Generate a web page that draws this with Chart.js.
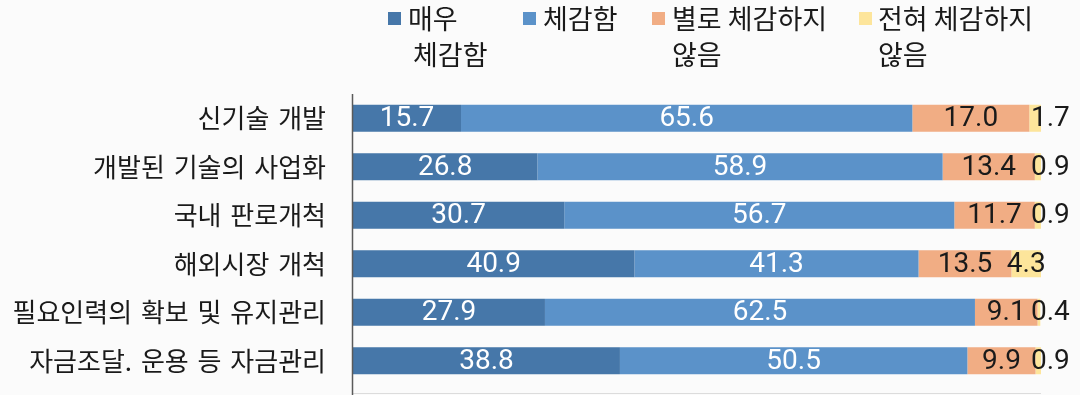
<!DOCTYPE html>
<html>
<head>
<meta charset="utf-8">
<script src="https://cdn.jsdelivr.net/npm/chart.js@4/dist/chart.umd.min.js"></script>
<style>
  html, body { margin: 0; padding: 0; background: #fbfbfb; }
  #wrap { width: 1080px; height: 395px; }
</style>
</head>
<body>
<div id="wrap"><canvas id="c" width="1080" height="395"></canvas></div>
<script>
const categories = ['신기술 개발', '개발된 기술의 사업화', '국내 판로개척', '해외시장 개척', '필요인력의 확보 및 유지관리', '자금조달. 운용 등 자금관리'];
const seriesNames = ['매우 체감함', '체감함', '별로 체감하지 않음', '전혀 체감하지 않음'];
const legendLines = [['매우', '체감함'], ['체감함'], ['별로 체감하지', '않음'], ['전혀 체감하지', '않음']];
const veryMuch = [15.7, 26.8, 30.7, 40.9, 27.9, 38.8];
const felt = [65.6, 58.9, 56.7, 41.3, 62.5, 50.5];
const notMuch = [17.0, 13.4, 11.7, 13.5, 9.1, 9.9];
const notAtAll = [1.7, 0.9, 0.9, 4.3, 0.4, 0.9];

const colors = ['#4677a9', '#5b92c9', '#f1ad84', '#fde59b'];
const labelColors = ['#ffffff', '#ffffff', '#1a1a1a', '#1a1a1a'];
const FONT = '"Noto Sans CJK KR", "Noto Sans", sans-serif';
const NUMFONT = 'Roboto, "Noto Sans", sans-serif';

const valueLabels = {
  id: 'valueLabels',
  afterDatasetsDraw(chart) {
    const ctx = chart.ctx;
    const xs = chart.scales.x;
    ctx.save();
    ctx.font = '400 28px ' + NUMFONT;
    ctx.textBaseline = 'middle';
    chart.data.datasets.forEach((ds, di) => {
      const meta = chart.getDatasetMeta(di);
      meta.data.forEach((bar, i) => {
        const v = ds.data[i];
        ctx.fillStyle = labelColors[di];
        const txt = v.toFixed(1);
        if (di === 3 && v < 2.5) {
          ctx.textAlign = 'left';
          ctx.fillText(txt, xs.getPixelForValue(100) - 10, bar.y + 1);
        } else {
          ctx.textAlign = 'center';
          ctx.fillText(txt, (bar.x + bar.base) / 2, bar.y + 1);
        }
      });
    });
    ctx.restore();
  }
};

const customLegend = {
  id: 'customLegend',
  afterDraw(chart) {
    const ctx = chart.ctx;
    const sqX = [388, 523, 652, 859];
    const txX = [408, 543, 672, 878];
    const line2X = [413, 543, 672, 878];
    ctx.save();
    ctx.wordSpacing = '0px';
    ctx.font = '400 27px ' + FONT;
    ctx.textBaseline = 'middle';
    ctx.textAlign = 'left';
    legendLines.forEach((lines, i) => {
      ctx.fillStyle = colors[i];
      ctx.fillRect(sqX[i], 12, 13, 13);
      ctx.fillStyle = '#1a1a1a';
      ctx.fillText(lines[0], txX[i], 19);
      if (lines[1]) ctx.fillText(lines[1], line2X[i], 55);
    });
    ctx.restore();
  }
};

const axisLine = {
  id: 'axisLine',
  afterDraw(chart) {
    const ctx = chart.ctx;
    const a = chart.chartArea;
    ctx.save();
    ctx.strokeStyle = '#dcdcdc';
    ctx.lineWidth = 1;
    ctx.beginPath();
    ctx.moveTo(a.left, 393.5);
    ctx.lineTo(a.right, 393.5);
    ctx.stroke();
    ctx.strokeStyle = '#5a5a5a';
    ctx.lineWidth = 1.5;
    ctx.beginPath();
    ctx.moveTo(a.left - 0.5, a.top);
    ctx.lineTo(a.left - 0.5, chart.height);
    ctx.stroke();
    ctx.restore();
  }
};

const bgPlugin = {
  id: 'bg',
  beforeDraw(chart) {
    const ctx = chart.ctx;
    ctx.save();
    ctx.fillStyle = '#fbfbfb';
    ctx.fillRect(0, 0, chart.width, chart.height);
    ctx.restore();
    ctx.wordSpacing = '3px';
  }
};

const dataSeries = [veryMuch, felt, notMuch, notAtAll];

new Chart(document.getElementById('c'), {
  type: 'bar',
  data: {
    labels: categories,
    datasets: dataSeries.map((d, i) => ({
      label: seriesNames[i],
      data: d,
      backgroundColor: colors[i],
      borderWidth: 0,
      categoryPercentage: 1,
      barPercentage: 0.557
    }))
  },
  options: {
    indexAxis: 'y',
    responsive: false,
    animation: false,
    devicePixelRatio: 1,
    layout: { padding: { top: 94, right: 39, bottom: 10, left: 0 } },
    plugins: {
      legend: { display: false },
      tooltip: { enabled: false }
    },
    scales: {
      x: {
        stacked: true,
        min: 0,
        max: 100,
        display: false
      },
      y: {
        stacked: true,
        grid: { display: false, drawTicks: false },
        border: { display: false },
        ticks: {
          color: '#1a1a1a',
          padding: 27,
          font: { family: FONT, size: 26 }
        },
        afterFit(scale) {
          scale.width = 353;
          scale.paddingTop = 0;
          scale.paddingBottom = 0;
        }
      }
    }
  },
  plugins: [bgPlugin, valueLabels, customLegend, axisLine]
});
</script>
</body>
</html>
